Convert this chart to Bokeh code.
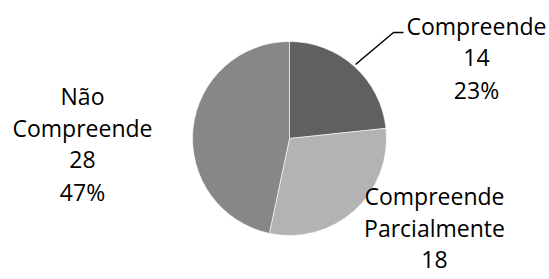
from math import pi
from bokeh.plotting import figure
from bokeh.models import Range1d, ColumnDataSource
from bokeh.core.properties import value
from bokeh.embed import file_html
from bokeh.resources import INLINE

# ---- data ----
categories = ["Compreende", "Compreende Parcialmente", "Não Compreende"]
label_lines = [["Compreende"], ["Compreende", "Parcialmente"], ["Não", "Compreende"]]
counts = [14, 18, 28]
colors = ["#606060", "#b3b3b3", "#878787"]

# ---- layout (reference pixel space; y measured from top) ----
W, H = 549, 279
cx, cy, R = 289, 138, 97
label_anchor = [(476, 25), (434, 195), (82, 95)]   # centre of first text line
line_step = 32
FONT = "Open Sans"
FSIZE = "23px"

def fy(y):
    return H - y

total = sum(counts)
starts, ends = [], []
acc = 0
for c in counts:
    a0 = pi / 2 - 2 * pi * acc / total
    acc += c
    a1 = pi / 2 - 2 * pi * acc / total
    starts.append(a0)
    ends.append(a1)

p = figure(width=W, height=H, output_backend="svg", toolbar_location=None,
           x_range=Range1d(0, W), y_range=Range1d(0, H),
           min_border=0, outline_line_color=None)
p.axis.visible = False
p.grid.visible = False
p.background_fill_color = "white"
p.border_fill_color = "white"

src = ColumnDataSource(dict(cat=categories, start=starts, end=ends, color=colors))
p.wedge(x=cx, y=fy(cy), radius=R, radius_units="screen",
        start_angle="start", end_angle="end", direction="clock",
        fill_color="color", line_color="#ffffff", line_width=0.6, source=src)

# leader line for "Compreende"
p.line(x=[355, 393, 403], y=[fy(64), fy(32), fy(32)], line_color="black", line_width=1.5)

xs, ys, texts = [], [], []
for lines, c, (ax, ay) in zip(label_lines, counts, label_anchor):
    pct = round(100 * c / total)
    full = lines + [str(c), f"{pct}%"]
    for i, t in enumerate(full):
        yy = ay + i * line_step
        if yy + 12 > H:   # line lies beyond the visible area (as in the reference)
            continue
        xs.append(ax)
        ys.append(fy(yy))
        texts.append(t)

p.text(x=xs, y=ys, text=texts, text_align="center", text_baseline="middle",
       text_font=value(FONT), text_font_size=FSIZE, text_color="black")

open("out.html", "w").write(file_html(p, INLINE))
